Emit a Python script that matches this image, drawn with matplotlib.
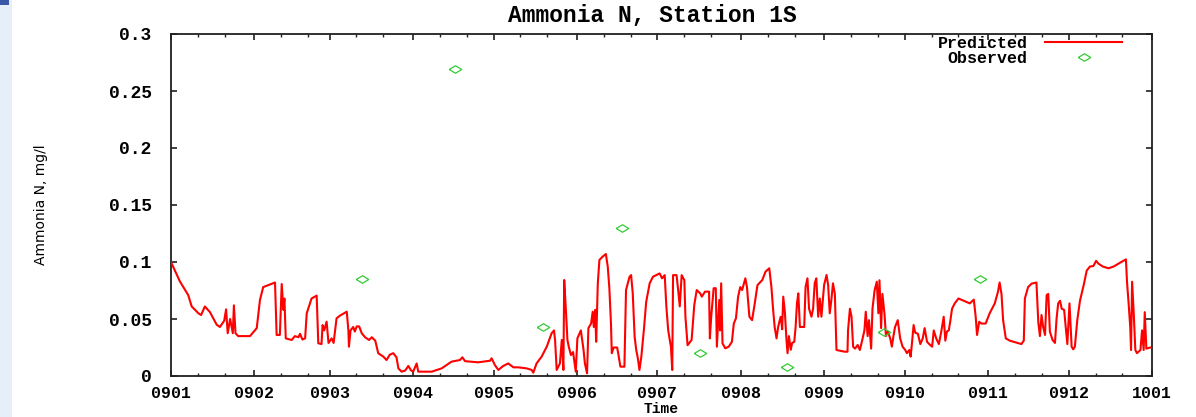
import matplotlib
matplotlib.use("Agg")
import matplotlib.pyplot as plt
from matplotlib.patches import Rectangle

# ---------------- data ----------------
month_start = [0, 31, 59, 90, 120, 151, 181, 212, 243, 273, 304, 334, 365]
month_labels = ["0901", "0902", "0903", "0904", "0905", "0906", "0907",
                "0908", "0909", "0910", "0911", "0912", "1001"]
y_ticks = [0, 0.05, 0.1, 0.15, 0.2, 0.25, 0.3]
y_labels = ["0", "0.05", "0.1", "0.15", "0.2", "0.25", "0.3"]

obs_day = [71, 105.7, 138.5, 167.8, 196.8, 229.3, 265.2, 301.1]
obs_val = [0.085, 0.269, 0.043, 0.130, 0.020, 0.008, 0.039, 0.085]

pred_day = [
    0, 3.3, 6.4, 7.7, 10.2, 11.2, 12.6, 14.5, 17, 18.2, 19.8, 20.5, 21.1, 22, 23, 23.4, 24.0, 25, 29.4, 31.9,
    33.1, 34.3, 38.7, 39, 39.3, 40.5, 41.2, 41.8, 42.2, 42.7, 44.9, 46.1, 47.4, 48, 48.9, 49.9, 50.5, 52.3, 54.2, 54.8,
    56, 56.4, 57, 57.9, 58.6, 59.8, 60.5, 61.6, 62.9, 65.4, 66, 66.2, 66.8, 67.8, 68.4, 69.1, 70, 71, 72.2, 73.7,
    74.7, 76, 77.1, 79, 80.2, 81.4, 82.7, 83.9, 84.6, 85.8, 87.1, 88.3, 89.3, 90.1, 91.4, 92, 97, 100.7, 104.4, 107.5,
    108.4, 109.4, 114.3, 118.7, 119.3, 120.5, 121.8, 123.6, 125.5, 127.4, 129.2, 132.3, 134.2, 134.8, 136, 137.9, 139.8, 141.6, 142.5, 142.9,
    143.5, 144.7, 145.4, 146, 146.3, 146.9, 147.5, 148, 148.8, 149.6, 150.6, 151.2, 152.5, 153.5, 154, 154.8, 155.3, 156.3, 156.9, 157.3,
    157.8, 158.2, 158.8, 159.4, 160.6, 161.8, 162.5, 163.1, 163.7, 164, 164.7, 166, 166.5, 167.2, 168.7, 169, 169.3, 170.6, 171.2, 171.8,
    172.5, 173.1, 173.7, 174.3, 175, 176, 176.8, 178.1, 179.3, 181.8, 182.7, 183.7, 184.3, 185, 186, 186.5, 186.8, 188.1, 188.7, 189.3,
    190, 191, 191.4, 192.2, 193.7, 194.7, 195.6, 196.9, 197.5, 198.7, 200.2, 200.5, 201, 201.9, 202.7, 203.1, 204, 204.3, 204.7, 205.2,
    206.2, 207.5, 208.7, 209.4, 210.2, 211, 211.8, 212.5, 213.7, 214.3, 215.2, 216.2, 217.2, 218.2, 220, 221.2, 222.6, 223.4, 224, 224.6,
    225.3, 225.9, 226.5, 226.9, 227.4, 227.8, 228.4, 229, 229.4, 229.9, 230.6, 231.1, 231.9, 232.4, 232.9, 233.4, 234, 235.6, 236.1, 236.8,
    237.4, 238.3, 238.9, 239.5, 240.1, 240.8, 241.4, 242, 243, 243.9, 244.5, 245.1, 245.7, 246.3, 247, 247.6, 250.7, 251.7, 251.9, 252.6,
    253.2, 253.8, 254.5, 255.5, 256.3, 257.2, 258, 258.5, 259.2, 259.7, 260.5, 261, 261.8, 262.6, 263.2, 263.6, 264.2, 264.7, 265.5, 266,
    266.7, 267.6, 268.2, 268.8, 269.4, 270.4, 271.3, 272.2, 273.2, 273.8, 274.7, 275.2, 275.7, 276.3, 276.9, 277.9, 278.8, 279.7, 280.4, 281.3,
    282.1, 283.2, 283.8, 284.7, 285.7, 286.6, 287.5, 288.1, 288.7, 289.4, 290, 290.6, 291.6, 293, 295, 297.2, 298.7, 299.4, 299.9, 300.7,
    301.5, 303.1, 304.6, 306.5, 307.7, 308.3, 309, 309.6, 310.6, 312.1, 316.4, 317.3, 317.7, 318.9, 320.2, 322, 322.7, 323.3, 323.9, 324.5,
    325.2, 325.8, 326.4, 327, 328, 328.9, 329.5, 330.1, 330.8, 331.4, 332.3, 333, 333.5, 334.3, 335.1, 335.7, 336.3, 337.2, 338.2, 338.8,
    339.7, 340.7, 341.9, 343.2, 344.2, 345.1, 346.7, 348.8, 350.7, 353.2, 355.3, 355.7, 356.3, 356.9, 357.2, 357.6, 358.2, 358.8, 359.4, 360.7,
    361.3, 361.9, 362.3, 362.9, 364.4,
]
pred_val = [
    0.100, 0.083, 0.071, 0.061, 0.055, 0.0535, 0.061, 0.056, 0.045, 0.043, 0.0485, 0.0585, 0.0375, 0.050, 0.0375, 0.062, 0.0375, 0.035, 0.035, 0.042,
    0.0667, 0.078, 0.082, 0.059, 0.036, 0.036, 0.0807, 0.058, 0.068, 0.033, 0.0316, 0.035, 0.034, 0.037, 0.032, 0.033, 0.055, 0.068, 0.0705, 0.0287,
    0.028, 0.0447, 0.040, 0.0477, 0.029, 0.033, 0.029, 0.0506, 0.053, 0.0564, 0.040, 0.0257, 0.040, 0.043, 0.039, 0.0435, 0.0435, 0.0374, 0.034, 0.0316,
    0.034, 0.031, 0.020, 0.017, 0.014, 0.0187, 0.020, 0.0164, 0.0067, 0.0038, 0.0047, 0.0088, 0.005, 0.0038, 0.011, 0.0038, 0.0038, 0.0067, 0.0126, 0.014,
    0.0164, 0.013, 0.012, 0.0134, 0.0155, 0.0096, 0.0053, 0.0088, 0.011, 0.0076, 0.0076, 0.0067, 0.0053, 0.0029, 0.011, 0.017, 0.0257, 0.0374, 0.040, 0.0316,
    0.0053, 0.011, 0.0316, 0.0053, 0.0842, 0.059, 0.0316, 0.0257, 0.0184, 0.021, 0.0038, 0.033, 0.040, 0.0228, 0.011, 0.0023, 0.042, 0.046, 0.0564, 0.043,
    0.058, 0.030, 0.0813, 0.1018, 0.1047, 0.107, 0.096, 0.077, 0.046, 0.020, 0.025, 0.025, 0.0184, 0.0082, 0.0082, 0.040, 0.0754, 0.087, 0.0885, 0.0725,
    0.0345, 0.0228, 0.0155, 0.0053, 0.017, 0.042, 0.065, 0.0813, 0.087, 0.090, 0.0857, 0.0885, 0.061, 0.040, 0.0257, 0.0053, 0.0885, 0.0885, 0.0754, 0.061,
    0.0885, 0.084, 0.052, 0.027, 0.0316, 0.0623, 0.0754, 0.0725, 0.0696, 0.074, 0.074, 0.033, 0.052, 0.077, 0.077, 0.0257, 0.0667, 0.040, 0.0813, 0.0287,
    0.0243, 0.0257, 0.030, 0.046, 0.0506, 0.0696, 0.078, 0.0754, 0.0857, 0.078, 0.052, 0.049, 0.0637, 0.0797, 0.0842, 0.0915, 0.0945, 0.078, 0.059, 0.043,
    0.033, 0.043, 0.049, 0.052, 0.041, 0.0696, 0.056, 0.0316, 0.020, 0.035, 0.023, 0.029, 0.030, 0.043, 0.0637, 0.0725, 0.043, 0.043, 0.078, 0.0857,
    0.059, 0.052, 0.059, 0.0813, 0.0857, 0.052, 0.068, 0.052, 0.0798, 0.0886, 0.0798, 0.055, 0.0667, 0.0813, 0.072, 0.0228, 0.0213, 0.0213, 0.040, 0.059,
    0.052, 0.0257, 0.024, 0.0272, 0.0228, 0.0316, 0.040, 0.0564, 0.035, 0.049, 0.024, 0.059, 0.0754, 0.0827, 0.055, 0.084, 0.042, 0.072, 0.0535, 0.035,
    0.039, 0.033, 0.0257, 0.035, 0.043, 0.049, 0.033, 0.0257, 0.0228, 0.020, 0.0228, 0.017, 0.029, 0.0447, 0.038, 0.037, 0.028, 0.033, 0.042, 0.030,
    0.028, 0.0257, 0.040, 0.033, 0.028, 0.039, 0.052, 0.031, 0.039, 0.040, 0.049, 0.059, 0.0637, 0.068, 0.066, 0.0637, 0.067, 0.052, 0.036, 0.0476,
    0.046, 0.046, 0.055, 0.0637, 0.074, 0.082, 0.072, 0.049, 0.033, 0.031, 0.028, 0.031, 0.068, 0.078, 0.081, 0.082, 0.047, 0.035, 0.0535, 0.043,
    0.036, 0.071, 0.072, 0.039, 0.0316, 0.029, 0.0506, 0.0637, 0.066, 0.059, 0.058, 0.040, 0.028, 0.0637, 0.0257, 0.0234, 0.0257, 0.049, 0.066, 0.072,
    0.081, 0.0924, 0.096, 0.0965, 0.101, 0.0985, 0.096, 0.0945, 0.096, 0.0995, 0.1023, 0.0827, 0.0637, 0.043, 0.0228, 0.0827, 0.055, 0.0228, 0.020, 0.0228,
    0.040, 0.0228, 0.056, 0.024, 0.025,
]

# ---------------- figure ----------------
W, H = 1196, 417
fig = plt.figure(figsize=(W / 100, H / 100), dpi=100)
fig.patch.set_facecolor("white")

# slide background strip at the left edge
fig.add_artist(Rectangle((0, 0), 12 / W, 1, transform=fig.transFigure,
                         facecolor="#e6eef9", edgecolor="none", zorder=-5))
fig.add_artist(Rectangle((0, 1 - 5 / H), 9 / W, 5 / H, transform=fig.transFigure,
                         facecolor="#3a57a8", edgecolor="none", zorder=-4))

ax = fig.add_axes([171 / W, 1 - 376 / H, 981 / W, 342 / H])

ax.plot(pred_day, pred_val, color="#ff0000", lw=1.5, label="Predicted", zorder=3)
diamond = [(-1, 0), (0, 0.6), (1, 0), (0, -0.6), (-1, 0)]
ax.plot(obs_day, obs_val, ls="none", marker=diamond, ms=9, mfc="none",
        mec="#33cc33", mew=0.9, label="Observed", zorder=4)

ax.set_xlim(0, 365)
ax.set_ylim(0, 0.3)

wide = dict(family="Liberation Mono", weight="bold")

ax.set_xticks(month_start)
ax.set_xticklabels(month_labels, fontsize=12, **wide)
minor = [m + d for m in month_start[:-1] for d in (10, 20)]
ax.set_xticks(minor, minor=True)
ax.set_yticks(y_ticks)
ax.set_yticklabels(y_labels, fontsize=13, **wide)

ax.tick_params(axis="both", which="both", direction="in", top=True, right=True,
               colors="#202020", labelcolor="black")
ax.tick_params(axis="x", which="major", length=4.5, width=1.2, pad=6.9)
ax.tick_params(axis="x", which="minor", length=2.2, width=1.0)
ax.tick_params(axis="y", which="major", length=4.5, width=1.2, pad=14)

for s in ax.spines.values():
    s.set_color("#202020")
    s.set_linewidth(1.3)

ax.set_title("Ammonia N, Station 1S", fontsize=16.5, x=(652 - 171) / 981, pad=9, **wide)
ax.set_xlabel("Time", fontsize=10.5, **wide)
ax.xaxis.set_label_coords(0.5, (376 - 402) / 342)
ax.set_ylabel("Ammonia N, mg/l", fontsize=10, family="DejaVu Sans")
ax.yaxis.set_label_coords((48 - 171) / 981, 0.5)

leg = ax.legend(loc="upper right", frameon=False, markerfirst=False, numpoints=1,
                prop=dict(size=12, **wide), handlelength=4.6, handletextpad=1.05,
                labelspacing=0.0, borderaxespad=0.0, borderpad=0.0,
                bbox_to_anchor=(1 - 30 / 981, 1 - 2 / 342))
try:
    for col in leg._legend_handle_box.get_children():
        col.align = "right"
except Exception:
    pass

fig.savefig("out.png", dpi=100)
